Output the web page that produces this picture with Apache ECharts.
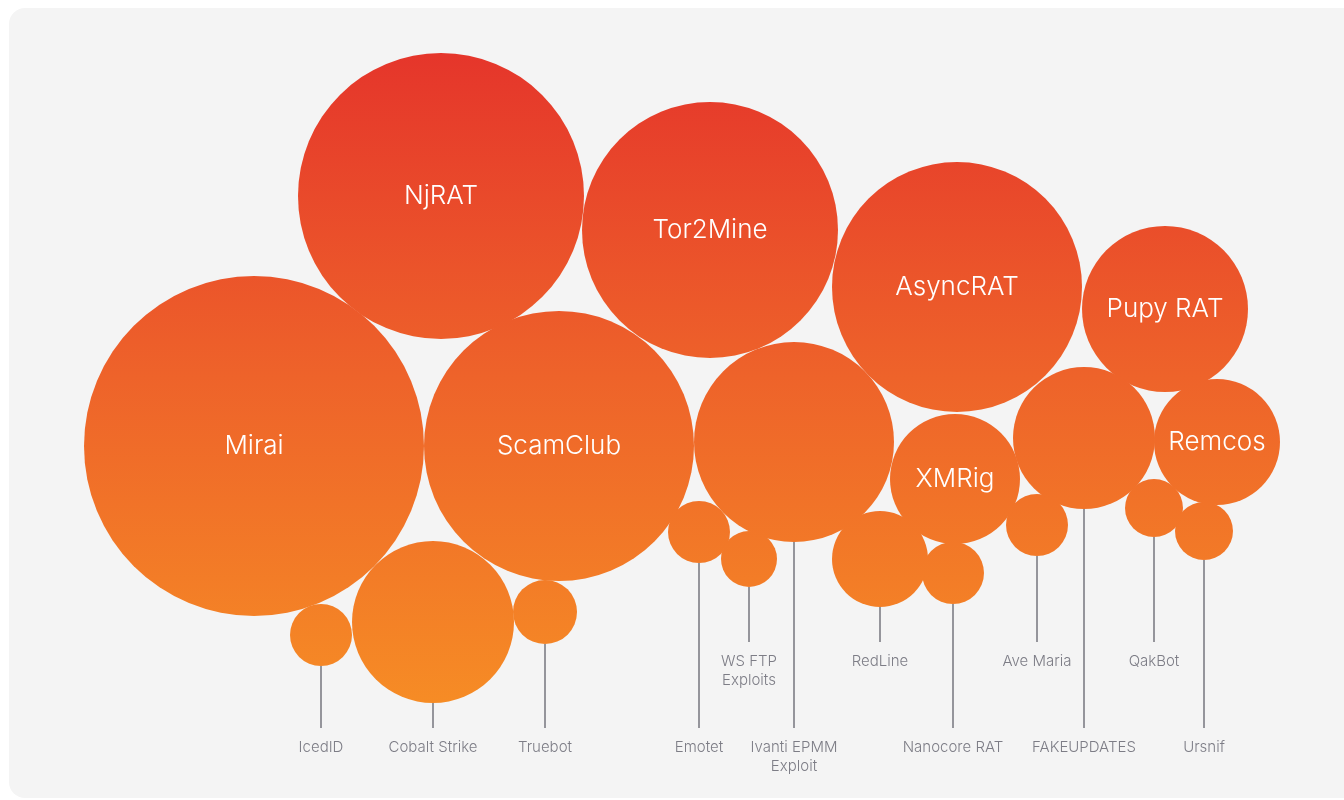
<!DOCTYPE html>
<html lang="en">
<head>
    <meta charset="UTF-8">
    <title>Malware bubbles</title>
    <script src="https://cdn.jsdelivr.net/npm/echarts@6/dist/echarts.min.js"></script>
    <style>
        html, body { margin: 0; padding: 0; background: #fff; }
        #main { width: 1344px; height: 800px; }
    </style>
</head>
<body>
<div id="main"></div>
<script>
    // bubble data (x / y in chart units, r = bubble radius)
    var names = ['NjRAT', 'Tor2Mine', 'AsyncRAT', 'Pupy RAT', 'Mirai', 'ScamClub',
        'Ivanti EPMM\nExploit', 'XMRig', 'FAKEUPDATES', 'Remcos', 'Cobalt Strike', 'IcedID',
        'Truebot', 'Emotet', 'WS FTP\nExploits', 'RedLine', 'Nanocore RAT', 'Ave Maria',
        'QakBot', 'Ursnif'];
    var xs = [441, 710, 957, 1165, 254, 559, 794, 955, 1084, 1217, 433, 321, 545, 699, 749, 880, 953, 1037, 1154, 1204];
    var ys = [196, 230, 287, 309, 446, 446, 442, 479, 438, 442, 622, 635, 612, 532, 559, 559, 573, 525, 508, 531];
    var radii = [143, 128, 125, 83, 170, 135, 100, 65, 71, 63, 81, 31, 32, 31, 28, 48, 31, 31, 29, 29];
    // 0 = label inside bubble, 1 = upper label row, 2 = lower label row
    var labelRow = [0, 0, 0, 0, 0, 0, 2, 0, 2, 0, 2, 2, 2, 2, 1, 1, 2, 1, 1, 2];
    var rowLineEnd = [0, 642, 728];
    var rowLabelY = [0, 661, 747];

    var mychart = echarts.init(document.getElementById('main'));

    var bubbles = [];
    var leaders = [];
    for (var i = 0; i < names.length; i++) {
        bubbles.push({ name: names[i], value: [xs[i], ys[i], radii[i], labelRow[i]] });
        if (labelRow[i] > 0) {
            leaders.push({
                name: names[i],
                value: [xs[i], ys[i] + radii[i], rowLineEnd[labelRow[i]], rowLabelY[labelRow[i]]]
            });
        }
    }

    var option = {
        animation: false,
        backgroundColor: '#ffffff',
        graphic: [{
            type: 'rect',
            z: -10,
            shape: { x: 9, y: 8, width: 1400, height: 790, r: 16 },
            style: { fill: '#f4f4f4' }
        }],
        grid: { left: 0, right: 0, top: 0, bottom: 0 },
        xAxis: { type: 'value', min: 0, max: 1344, show: false },
        yAxis: { type: 'value', min: 0, max: 800, inverse: true, show: false },
        series: [
            {
                type: 'custom',
                coordinateSystem: 'cartesian2d',
                data: leaders,
                silent: true,
                renderItem: function (params, api) {
                    var top = api.coord([api.value(0), api.value(1)]);
                    var bottom = api.coord([api.value(0), api.value(2)]);
                    var lab = api.coord([api.value(0), api.value(3)]);
                    var name = leaders[params.dataIndex].name;
                    return {
                        type: 'group',
                        children: [{
                            type: 'line',
                            shape: { x1: top[0], y1: top[1], x2: bottom[0], y2: bottom[1] },
                            style: { stroke: '#55555f', lineWidth: 1.2 }
                        }, {
                            type: 'text',
                            x: lab[0],
                            y: lab[1] - 9.5,
                            style: {
                                text: name,
                                fill: '#7d7d86',
                                font: '300 15px Inter, "Noto Sans", sans-serif',
                                align: 'center',
                                verticalAlign: 'top',
                                lineHeight: 19
                            }
                        }]
                    };
                }
            },
            {
                type: 'custom',
                coordinateSystem: 'cartesian2d',
                data: bubbles,
                silent: true,
                renderItem: function (params, api) {
                    var c = api.coord([api.value(0), api.value(1)]);
                    var edge = api.coord([api.value(0) + api.value(2), api.value(1)]);
                    var r = edge[0] - c[0];
                    var children = [{
                        type: 'circle',
                        shape: { cx: c[0], cy: c[1], r: r },
                        style: {
                            fill: new echarts.graphic.LinearGradient(0, 50, 0, 705, [
                                { offset: 0, color: '#e5352b' },
                                { offset: 0.5, color: '#ee632a' },
                                { offset: 1, color: '#f68c25' }
                            ], true)
                        }
                    }];
                    if (api.value(3) === 0) {
                        children.push({
                            type: 'text',
                            x: c[0],
                            y: c[1],
                            style: {
                                text: bubbles[params.dataIndex].name,
                                fill: '#ffffff',
                                font: '300 26px Inter, "Noto Sans", sans-serif',
                                align: 'center',
                                verticalAlign: 'middle'
                            }
                        });
                    }
                    return { type: 'group', children: children };
                }
            }
        ]
    };
    mychart.setOption(option);
</script>
</body>
</html>
